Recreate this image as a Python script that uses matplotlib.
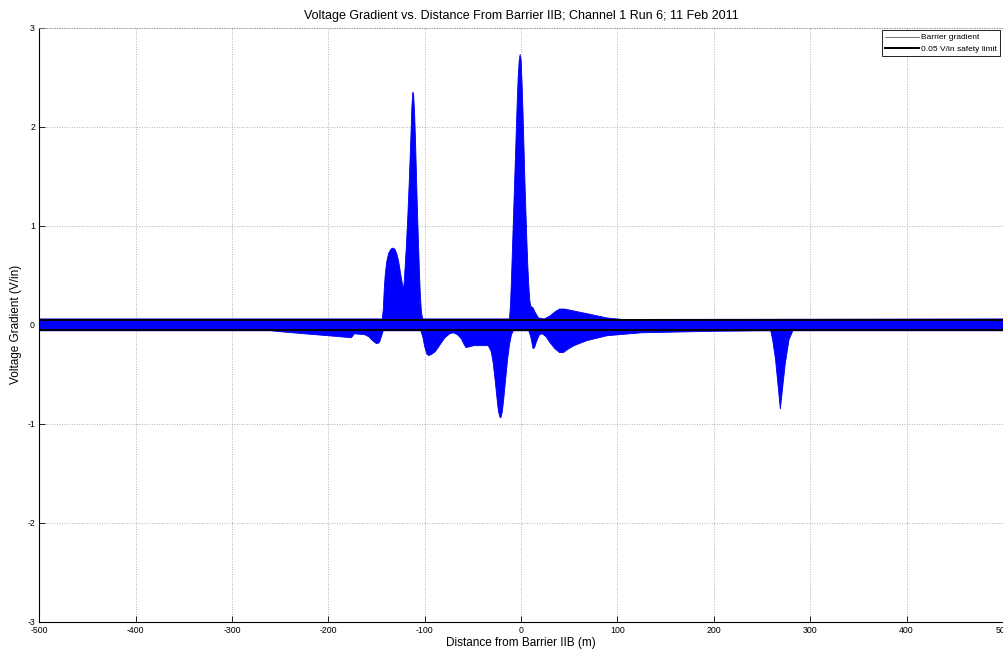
import matplotlib
matplotlib.use("Agg")
import matplotlib.pyplot as plt
from matplotlib.lines import Line2D

plt.rcParams['font.family'] = ['Liberation Sans', 'DejaVu Sans']
plt.rcParams['axes.unicode_minus'] = False

# Envelope of the barrier gradient signal (V/in) against distance (m)
upper_dist = [-500, -144, -143, -142, -141, -139.5, -137.5, -135, -133, -131, -129,
              -127, -125.5, -124, -122.5, -121.5, -120.5, -119, -117.5, -116, -114.5,
              -113.3, -112.3, -111.5, -110.5, -109.5, -108.5, -107.5, -106.5, -105.5,
              -104.5, -103.3, -102,
              -12, -11, -10, -9, -8, -7, -6, -5, -4, -3, -2, -1, 0, 1, 2, 3, 4, 5,
              6, 7, 8, 9, 10, 12.5, 15, 18, 24, 30, 35, 40, 45, 50, 60, 70, 89, 105, 500]
upper_grad = [0.06, 0.06, 0.15, 0.35, 0.50, 0.63, 0.72, 0.765, 0.775, 0.765, 0.72,
              0.64, 0.55, 0.46, 0.38, 0.40, 0.55, 0.80, 1.10, 1.45, 1.85,
              2.20, 2.35, 2.33, 2.15, 1.85, 1.50, 1.15, 0.85, 0.55,
              0.30, 0.12, 0.06,
              0.06, 0.20, 0.45, 0.75, 1.05, 1.35, 1.65, 1.95, 2.25, 2.50, 2.66, 2.73, 2.68, 2.45, 2.15, 1.80, 1.45, 1.15,
              0.85, 0.60, 0.40, 0.25, 0.19, 0.17, 0.12, 0.07, 0.06, 0.09, 0.13, 0.16, 0.16, 0.15, 0.13, 0.11, 0.07, 0.055, 0.06]

lower_dist = [-500, -260, -249, -225, -200, -176, -173, -162, -158, -154, -150, -147, -145, -143,
              -104, -102, -100, -98, -96, -93, -89, -84, -79, -74, -70, -66, -62, -59, -57, -53, -49,
              -34, -31, -29, -27, -25, -23.5, -22, -21, -19.5, -18, -16, -14, -12, -10, -8,
              8, 10, 12.5, 14, 16, 19, 22, 26, 30, 35, 40, 44, 48, 55, 68, 89,
              125, 200, 259, 261, 264, 269, 274, 278, 282, 500]
lower_grad = [-0.06, -0.06, -0.07, -0.09, -0.11, -0.13, -0.09, -0.10, -0.12, -0.16, -0.19, -0.18, -0.12, -0.06,
              -0.06, -0.12, -0.22, -0.29, -0.31, -0.30, -0.27, -0.20, -0.13, -0.09, -0.08, -0.10, -0.14, -0.20, -0.23, -0.22, -0.21,
              -0.21, -0.27, -0.38, -0.55, -0.74, -0.87, -0.93, -0.94, -0.88, -0.75, -0.55, -0.35, -0.20, -0.10, -0.06,
              -0.06, -0.12, -0.24, -0.23, -0.17, -0.10, -0.09, -0.12, -0.18, -0.24, -0.28, -0.28, -0.25, -0.21, -0.16, -0.11,
              -0.08, -0.065, -0.06, -0.15, -0.35, -0.85, -0.40, -0.15, -0.06, -0.06]

safety_limit = 0.05
x_ticks = [-500, -400, -300, -200, -100, 0, 100, 200, 300, 400, 500]
y_ticks = [-3, -2, -1, 0, 1, 2, 3]

fig = plt.figure(figsize=(10.04, 6.53), dpi=100)
ax = fig.add_axes([0.039, 0.0475, 0.96, 0.91])

# Signal band: upper envelope forward, lower envelope back
ax.fill(upper_dist + lower_dist[::-1], upper_grad + lower_grad[::-1],
        color='#0000ff', linewidth=0.6, edgecolor='#0000ee', zorder=2)

ax.axhline(safety_limit, color='black', linewidth=1.4, zorder=3)
ax.axhline(-safety_limit, color='black', linewidth=1.4, zorder=3)

ax.set_xlim(-500, 500)
ax.set_ylim(-3, 3)
ax.set_xticks(x_ticks)
ax.set_yticks(y_ticks)
ax.tick_params(direction='in', length=4, width=0.6, labelsize=6.3, pad=3,
               top=False, right=False)
ax.grid(True, linestyle=(0, (1, 2)), color='0.6', linewidth=0.6)
ax.set_axisbelow(True)

for side in ('left', 'bottom'):
    ax.spines[side].set_linewidth(0.8)
ax.spines['right'].set_visible(False)
ax.spines['top'].set_color('0.6')
ax.spines['top'].set_linestyle((0, (1, 2)))
ax.spines['top'].set_linewidth(0.6)

ax.set_title('Voltage Gradient vs. Distance From Barrier IIB; Channel 1 Run 6; 11 Feb 2011',
             fontsize=9, pad=6)
ax.set_xlabel('Distance from Barrier IIB (m)', fontsize=8.5, labelpad=1)
ax.set_ylabel('Voltage Gradient (V/in)', fontsize=8.5, labelpad=4)

handles = [Line2D([], [], color='0.45', linewidth=0.7),
           Line2D([], [], color='black', linewidth=1.4)]
leg = ax.legend(handles, ['Barrier gradient', '0.05 V/in safety limit'],
                loc='upper right', fontsize=6, frameon=True, fancybox=False,
                edgecolor='black', framealpha=1, borderaxespad=0.3,
                handlelength=4, handletextpad=0.3, borderpad=0.4, labelspacing=0.4)
leg.get_frame().set_linewidth(0.6)

fig.savefig('out.png', dpi=100)
